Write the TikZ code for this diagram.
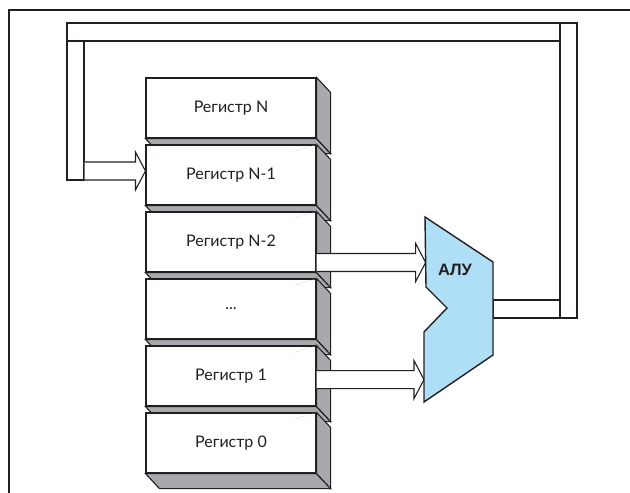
\documentclass[tikz,border=0pt]{standalone}
\usepackage{fontspec}
\setmainfont{Lato}
\newfontfamily\alufont{Liberation Sans}
\usetikzlibrary{calc}
\definecolor{ink}{HTML}{231F20}
\definecolor{sideface}{HTML}{A7A9AC}
\definecolor{alublue}{HTML}{AEDFF7}

\tikzset{
  pipe/.style={draw=ink, fill=white, line width=1.1pt},
  regbox/.style={draw=ink, fill=white, line width=1.1pt, minimum width=170pt,
    minimum height=60pt, inner sep=0pt, text=ink, font=\fontsize{16}{18}\selectfont},
  face/.style={draw=ink, fill=sideface, line width=1.1pt, line join=miter},
  ghost/.style={draw=gray!70, densely dotted, line width=0.4pt},
  arrowbody/.style={draw=ink, fill=white, line width=1.1pt, line join=miter},
  alushape/.style={draw=ink, fill=alublue, line width=1.4pt, line join=miter},
}

% block arrow: #1 start point, #2 tip point (same height)
\newcommand\blockarrow[2]{%
  \path[arrowbody] let \p1=(#1), \p2=(#2) in
    (\x1,\y2+9pt) -- (\x2-10pt,\y2+9pt) -- (\x2-10pt,\y2+19pt) -- (\x2,\y2)
    -- (\x2-10pt,\y2-19pt) -- (\x2-10pt,\y2-9pt) -- (\x1,\y2-9pt);
}

\begin{document}
\begin{tikzpicture}[x=1pt,y=-1pt]
\useasboundingbox (0,0) rectangle (630,493);

% outer frame
\draw[ink, line width=1.6pt] (9,493) -- (9,10) -- (630,10);

% feedback bus from the ALU output back to register N-1
\node[pipe, minimum width=17pt, minimum height=295pt, inner sep=0pt] (rbar) at (568.5,170.5) {};
\node[pipe, minimum width=493pt, minimum height=18pt, inner sep=0pt] (tbar) at (313.5,32) {};
\node[pipe, minimum width=17pt, minimum height=139pt, inner sep=0pt] (lbar) at (75.5,110.5) {};
\node[pipe, minimum width=67pt, minimum height=18pt, inner sep=0pt] (obar) at (526.5,309) {};

% register stack (drawn top to bottom so each box hides the one above)
\foreach \name/\top/\lab in {rN/78/{Регистр N}, rNa/145/{Регистр N-1}, rNb/212/{Регистр N-2},
    rdots/279/{...}, rone/346/{Регистр 1}, rzero/413/{Регистр 0}} {
  \node[regbox] (\name) at (231,{\top+30}) {\lab};
  \path[face] (\name.south west) -- (\name.south east) -- ($(\name.south east)+(14,15)$)
    -- ($(\name.south west)+(14,15)$) -- cycle;
  \path[face] (\name.north east) -- ($(\name.north east)+(14,15)$)
    -- ($(\name.south east)+(14,15)$) -- (\name.south east) -- cycle;
}
\foreach \name in {rNa, rNb, rdots, rone, rzero}
  \draw[ghost] (\name.north east) -- ++(-23,7);

% ALU
\coordinate (a1) at (425,217);
\coordinate (a2) at (493,262);
\coordinate (a3) at (493,355);
\coordinate (a4) at (424,402);
\coordinate (a5) at (424,332);
\coordinate (a6) at (447,308);
\coordinate (a7) at (426,287);

% data paths
\coordinate (inA) at ($(lbar.east)+(0,60.5)$);
\coordinate (tipA) at ($(rNa.west)+(0,-4)$);
\blockarrow{inA}{tipA}
\coordinate (outB) at ($(rNb.east)+(0,-2)$);
\coordinate (tipB) at ($(a1)!0.65!(a7)$);
\blockarrow{outB}{tipB}
\coordinate (outC) at ($(rone.east)+(0,4)$);
\coordinate (tipC) at ($(a5)!0.68!(a4)$);
\blockarrow{outC}{tipC}

\path[alushape] (a1) -- (a2) -- (a3) -- (a4) -- (a5) -- (a6) -- (a7) -- cycle;
\node[text=ink, font=\alufont\bfseries\fontsize{16.5}{18}\selectfont] (alu) at (455,270) {АЛУ};
\end{tikzpicture}
\end{document}
